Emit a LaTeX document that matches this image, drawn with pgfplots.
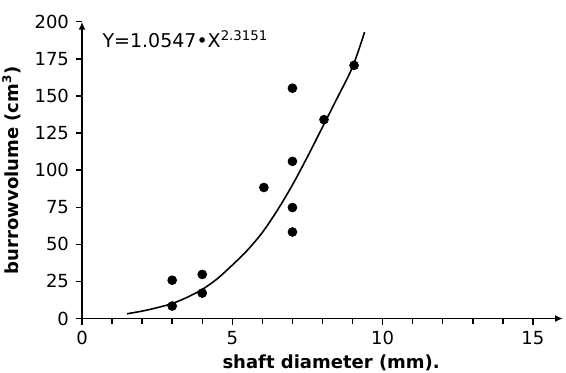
\documentclass[border=0pt]{standalone}
\usepackage{pgfplots}
\pgfplotsset{compat=1.18}
\usepackage{fontspec}
\setmainfont{DejaVu Sans}
\usetikzlibrary{arrows.meta}

\begin{document}
\begin{tikzpicture}
% fixed page frame around the axis box
\path[use as bounding box] (-41pt,-26.75pt) rectangle (242pt,159.25pt);
\begin{axis}[
  at={(0,0)}, anchor=south west,
  scale only axis, width=240.5pt, height=148.4pt,
  xmin=0, xmax=16, ymin=0, ymax=200,
  axis lines=left,
  axis line style={line width=0.8pt},
  x axis line style={-{Latex[length=4pt,width=3.5pt]}},
  y axis line style={-{Latex[length=4pt,width=3.5pt]}},
  xtick={0,5,10,15},
  minor x tick num=4,
  ytick={0,25,...,200},
  xtick align=outside,
  ytick align=outside,
  major tick length=3pt,
  minor tick length=2.5pt,
  every tick/.style={black, line width=0.7pt},
  tick label style={font=\fontsize{9}{10}\selectfont},
  /pgf/number format/assume math mode=true,
  xlabel={\textbf{shaft diameter (mm).}},
  ylabel={\textbf{burrowvolume (cm\textsuperscript{3})}},
  label style={font=\fontsize{9}{10}\selectfont},
  xlabel style={at={(axis description cs:0.518,0)}, anchor=center, yshift=-22.25pt},
  ylabel style={at={(axis description cs:-0.146,0.5)}, anchor=center},
  clip=false,
]
% measured burrows
\addplot[only marks, mark=*, mark size=2.2pt, black] coordinates {
  (3,8.4) (3,25.8) (4,17.1) (4,29.7) (6.05,88.3)
  (7,58.3) (7,74.8) (7,105.9) (7,155.2) (8.05,134) (9.05,170.6)
};
% fitted power curve
\addplot[smooth, tension=0.5, black, line width=0.8pt] coordinates {
  (1.5,3.2) (2,5.0) (2.5,7.3) (3,10.1) (3.5,14.3) (4,19.6) (4.5,26.8)
  (5,36) (5.5,46) (6,58) (6.5,73) (7,90) (7.5,109) (8,129)
  (8.5,149) (9,169.5) (9.4,193)
};
\node[anchor=base west, inner sep=0pt, font=\fontsize{9.5}{11}\selectfont]
  at (axis cs:0.67,182.4) {Y=1.0547•X\textsuperscript{2.3151}};
\end{axis}
\end{tikzpicture}
\end{document}
